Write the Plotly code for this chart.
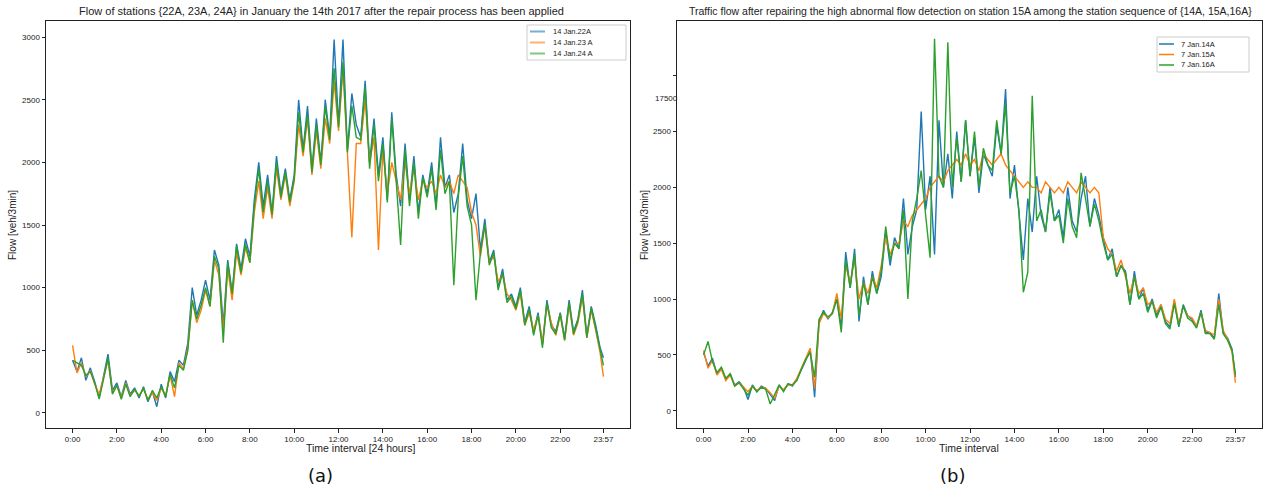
import plotly.graph_objects as go

# time index in 3-minute intervals (0 .. 479 = 23:57), sampled every 12 minutes
time_index = [4 * k for k in range(120)] + [479]

tick_vals = [0, 40, 80, 120, 160, 200, 240, 280, 320, 360, 400, 440, 479]
tick_text = ["0:00", "2:00", "4:00", "6:00", "8:00", "10:00", "12:00", "14:00",
             "16:00", "18:00", "20:00", "22:00", "23:57"]

# ---- panel (a): 14 Jan, stations 22A, 23A, 24A (one row = one hour) ----
flow_22A = [
    420, 330, 440, 260, 360,   250, 120, 300, 470, 180,   240, 130, 260, 150, 200,
    120, 210, 90, 170, 50,     230, 120, 330, 250, 420,   380, 560, 1000, 780, 900,
    1060, 900, 1300, 1180, 700,  1220, 960, 1350, 1150, 1390,  1250, 1700, 2000, 1650, 1900,
    1600, 2050, 1750, 1950, 1700,  1900, 2500, 2100, 2450, 1950,  2350, 2000, 2500, 2200, 2980,
    2300, 2980, 2100, 2550, 2300,  2200, 2650, 2000, 2350, 1900,  2200, 1700, 2400, 1900, 1650,
    2150, 1700, 2050, 1600, 1900,  1750, 2000, 1650, 2200, 1800,  1900, 1600, 1750, 2150, 1700,
    1550, 1750, 1300, 1550, 1200,  1300, 1000, 1150, 900, 950,   850, 1000, 720, 850, 640,
    800, 550, 900, 700, 650,   800, 600, 900, 650, 750,   980, 620, 850, 700, 520,
    440]
flow_23A = [
    540, 320, 400, 290, 340,   230, 150, 280, 420, 160,   220, 120, 240, 140, 180,
    140, 190, 110, 160, 100,   200, 140, 300, 130, 400,   350, 520, 900, 720, 820,
    980, 850, 1220, 1100, 650,  1150, 900, 1280, 1100, 1320,  1200, 1600, 1850, 1550, 1800,
    1550, 1950, 1700, 1900, 1650,  1850, 2300, 2050, 2350, 1900,  2250, 1950, 2350, 2150, 2650,
    2250, 2750, 2050, 1400, 2150,  2150, 2500, 2000, 2200, 1300,  2100, 1750, 2000, 1850, 1700,
    2000, 1750, 1950, 1700, 1850,  1800, 1850, 1750, 1900, 1800,  1850, 1750, 1900, 1850, 1800,
    1600, 1500, 1250, 1500, 1200,  1250, 1050, 1100, 950, 900,   820, 950, 700, 800, 660,
    780, 560, 860, 720, 620,   780, 580, 860, 620, 720,   920, 600, 820, 660, 480,
    290]
flow_24A = [
    420, 400, 380, 300, 330,   240, 110, 270, 440, 150,   220, 110, 230, 130, 190,
    130, 200, 100, 180, 120,   210, 130, 310, 200, 380,   340, 500, 900, 750, 860,
    1000, 850, 1250, 1150, 560,  1200, 950, 1330, 1120, 1350,  1200, 1650, 1950, 1600, 1850,
    1580, 2000, 1720, 1920, 1680,  1870, 2400, 2080, 2380, 1920,  2300, 1980, 2450, 2180, 2750,
    2280, 2800, 2080, 2450, 2200,  2180, 2600, 1950, 2300, 1850,  2150, 1680, 2350, 1850, 1340,
    2100, 1650, 2000, 1550, 1880,  1720, 1950, 1620, 2100, 1750,  1850, 1020, 1720, 2050, 1650,
    1500, 900, 1280, 1500, 1180,  1280, 980, 1120, 880, 930,   830, 980, 700, 830, 620,
    780, 520, 880, 680, 630,   790, 580, 880, 630, 740,   950, 600, 840, 680, 500,
    380]

# ---- panel (b): 7 Jan, stations 14A, 15A, 16A (one row = one hour) ----
flow_14A = [
    520, 400, 470, 330, 380,   280, 330, 230, 260, 210,   100, 230, 170, 220, 200,
    150, 90, 230, 180, 240,    220, 280, 360, 450, 550,   120, 800, 900, 820, 880,
    1000, 750, 1420, 1100, 1450,  800, 1200, 950, 1250, 1050,  1200, 1600, 1300, 1550, 1450,
    1900, 1400, 1650, 1800, 2680,  1800, 2100, 1400, 2600, 2000,  2300, 1900, 2500, 2050, 2600,
    2100, 2450, 1950, 2300, 2200,  2100, 2550, 2300, 2880, 1900,  2200, 1800, 1350, 1900, 1600,
    2100, 1750, 1600, 2000, 1700,  1800, 1550, 2000, 1700, 1600,  1900, 2100, 1650, 1900, 1750,
    1550, 1350, 1450, 1200, 1300,  1250, 950, 1250, 1000, 1100,  900, 1000, 850, 950, 800,
    750, 980, 750, 950, 850,   820, 750, 900, 700, 700,   650, 1050, 700, 650, 550,
    300]
flow_15A = [
    540, 380, 450, 320, 370,   270, 320, 220, 250, 210,   170, 220, 180, 210, 200,
    160, 110, 220, 190, 230,   230, 290, 380, 470, 560,   200, 780, 870, 830, 870,
    1050, 820, 1300, 1150, 1350,  1000, 1150, 1050, 1200, 1100,  1300, 1550, 1400, 1500, 1500,
    1700, 1650, 1750, 1800, 1850,  1900, 2000, 2050, 2100, 2050,  2150, 2200, 2250, 2200, 2300,
    2200, 2250, 2150, 2300, 2250,  2200, 2250, 2300, 2200, 2150,  2100, 2050, 2000, 2050, 2000,
    2000, 1950, 2050, 2000, 1950,  2000, 1950, 2050, 2000, 1950,  2050, 2000, 1950, 2000, 1950,
    1550, 1450, 1400, 1250, 1350,  1200, 1050, 1200, 1050, 1100,  950, 980, 880, 950, 820,
    780, 1000, 780, 930, 850,   830, 760, 880, 720, 700,   680, 1000, 720, 640, 520,
    250]
flow_16A = [
    500, 620, 440, 340, 390,   290, 330, 220, 250, 200,   140, 220, 170, 210, 190,
    60, 150, 230, 170, 240,    230, 270, 370, 460, 520,   300, 820, 880, 840, 870,
    1000, 700, 1350, 1100, 1400,  850, 1150, 950, 1200, 1050,  1250, 1650, 1350, 1500, 1450,
    1800, 1000, 1700, 1900, 2150,  1750, 1370, 3330, 2100, 2000,  3300, 2000, 2450, 2050, 2600,
    2100, 2500, 2000, 2350, 2200,  2150, 2600, 2300, 2750, 1950,  2100, 1800, 1060, 1240, 2820,
    1700, 1800, 1600, 1950, 1700,  1750, 1500, 1900, 1650, 1550,  2130, 1900, 1650, 1850, 1700,
    1500, 1350, 1400, 1200, 1300,  1230, 950, 1200, 1000, 1050,  880, 980, 830, 930, 780,
    730, 960, 760, 940, 830,   800, 740, 880, 690, 690,   640, 950, 690, 630, 540,
    320]

names_a = ["14 Jan.22A", "14 Jan.23 A", "14 Jan.24 A"]
names_b = ["7 Jan.14A", "7 Jan.15A", "7 Jan.16A"]
colors = ["#1f77b4", "#ff7f0e", "#2ca02c"]
light_colors = ["rgba(31,119,180,0.6)", "rgba(255,127,14,0.6)", "rgba(44,160,44,0.6)"]

W, H = 1266, 492
font_family = "Liberation Sans, Arial, sans-serif"
text_color = "#222"
tick_font = dict(family=font_family, size=8, color=text_color)


def px(xp):
    return xp / W


def py(yp):
    return (H - yp) / H


fig = go.Figure()

for name, ys, c in zip(names_a, [flow_22A, flow_23A, flow_24A], colors):
    fig.add_trace(go.Scatter(x=time_index, y=ys, mode="lines", name=name,
                             line=dict(color=c, width=1.4), showlegend=False,
                             xaxis="x", yaxis="y"))

for name, ys, c in zip(names_b, [flow_14A, flow_15A, flow_16A], colors):
    fig.add_trace(go.Scatter(x=time_index, y=ys, mode="lines", name=name,
                             line=dict(color=c, width=1.4), showlegend=False,
                             xaxis="x2", yaxis="y2"))

common_x = dict(range=[-23.95, 502.95], tickmode="array", tickvals=tick_vals,
                ticktext=tick_text, showline=True, mirror=True, linecolor=text_color,
                linewidth=1, ticks="outside", ticklen=3.5, tickcolor=text_color,
                showgrid=False, zeroline=False, tickfont=tick_font)
common_y = dict(showline=True, mirror=True, linecolor=text_color, linewidth=1,
                ticks="outside", ticklen=3.5, tickcolor=text_color, showgrid=False,
                zeroline=False, tickfont=tick_font)

shapes = []
annotations = []


# ---- legends drawn as boxes with sample lines and text ----
def add_legend(box, rows, line_x, text_x, names, cols, lw):
    x0, y0, x1, y1 = box
    shapes.append(dict(type="rect", xref="paper", yref="paper",
                       x0=px(x0), x1=px(x1), y0=py(y1), y1=py(y0),
                       line=dict(color="#cccccc", width=1), fillcolor="white",
                       layer="above"))
    for yy, nm, cc in zip(rows, names, cols):
        shapes.append(dict(type="line", xref="paper", yref="paper",
                           x0=px(line_x[0]), x1=px(line_x[1]), y0=py(yy), y1=py(yy),
                           line=dict(color=cc, width=lw), layer="above"))
        annotations.append(dict(text=nm, x=px(text_x), y=py(yy), xref="paper",
                                yref="paper", xanchor="left", yanchor="middle",
                                showarrow=False,
                                font=dict(size=7.5, family=font_family, color=text_color)))


add_legend((527, 25, 626, 60), [31.5, 42.5, 53.5], (530, 545), 551,
           names_a, light_colors, 2)
add_legend((1157, 37, 1249, 72), [44, 54.5, 65], (1159, 1174), 1179,
           names_b, colors, 1.5)

annotations += [
    dict(text="Flow of stations {22A, 23A, 24A} in January the 14th 2017 after the repair process has been applied",
         x=px(321), y=py(11), xref="paper", yref="paper", xanchor="center",
         yanchor="middle", showarrow=False, font=dict(size=11, family=font_family, color=text_color)),
    dict(text="Traffic flow after repairing the high abnormal flow detection on station 15A among the station sequence of {14A, 15A,16A}",
         x=px(970), y=py(11), xref="paper", yref="paper", xanchor="center",
         yanchor="middle", showarrow=False, font=dict(size=10.5, family=font_family, color=text_color)),
    dict(text="Time interval [24 hours]", x=px(360), y=py(448), xref="paper", yref="paper",
         xanchor="center", yanchor="middle", showarrow=False,
         font=dict(size=10.5, family=font_family, color=text_color)),
    dict(text="Time interval", x=px(969), y=py(448), xref="paper", yref="paper",
         xanchor="center", yanchor="middle", showarrow=False,
         font=dict(size=10.5, family=font_family, color=text_color)),
    dict(text="Flow [veh/3min]", x=px(13), y=py(225), xref="paper", yref="paper",
         xanchor="center", yanchor="middle", textangle=-90, showarrow=False,
         font=dict(size=10, family=font_family, color=text_color)),
    dict(text="Flow [veh/3min]", x=px(645), y=py(225), xref="paper", yref="paper",
         xanchor="center", yanchor="middle", textangle=-90, showarrow=False,
         font=dict(size=10, family=font_family, color=text_color)),
    dict(text="17500", x=px(680), y=2800, xref="paper", yref="y2",
         xanchor="right", yanchor="middle", showarrow=False, font=tick_font),
    dict(text="(a)", x=px(320), y=py(475), xref="paper", yref="paper",
         xanchor="center", yanchor="middle", showarrow=False,
         font=dict(size=18, family="DejaVu Sans", color="#111")),
    dict(text="(b)", x=px(952), y=py(475), xref="paper", yref="paper",
         xanchor="center", yanchor="middle", showarrow=False,
         font=dict(size=18, family="DejaVu Sans", color="#111")),
]

fig.update_layout(
    width=W, height=H, margin=dict(l=0, r=0, t=0, b=0),
    paper_bgcolor="white", plot_bgcolor="white", showlegend=False,
    font=dict(family=font_family, color=text_color),
    xaxis=dict(domain=[px(46), px(630)], anchor="y", **common_x),
    xaxis2=dict(domain=[px(677), px(1262)], anchor="y2", **common_x),
    yaxis=dict(domain=[py(428), py(21)], anchor="x", range=[-120, 3128],
               tickmode="array", tickvals=[0, 500, 1000, 1500, 2000, 2500, 3000],
               **common_y),
    yaxis2=dict(domain=[py(428), py(21)], anchor="x2", range=[-155, 3490],
                tickmode="array",
                tickvals=[0, 500, 1000, 1500, 2000, 2500, 3000],
                ticktext=["0", "500", "1000", "1500", "2000", "2500", ""],
                **common_y),
    shapes=shapes,
    annotations=annotations,
)

fig.write_html("out.html")
